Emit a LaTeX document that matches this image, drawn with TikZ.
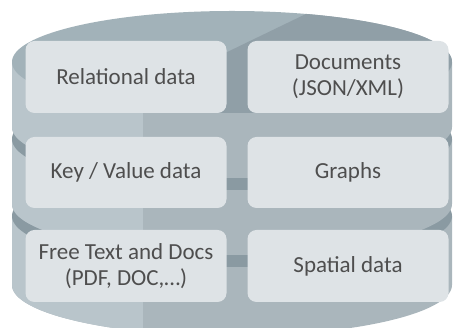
\documentclass[tikz,border=0pt]{standalone}
\usepackage{fontspec}
\setmainfont{Carlito}
\definecolor{toplight}{HTML}{A2B2B9}
\definecolor{topdark}{HTML}{909FA7}
\definecolor{bodylight}{HTML}{B9C5CB}
\definecolor{bodymain}{HTML}{AAB6BC}
\definecolor{crescent}{HTML}{8A9AA2}
\definecolor{boxfill}{HTML}{DEE3E6}
\definecolor{textc}{HTML}{4E4E4E}
\newcommand\diskbody[2]{%
  \fill[bodymain] (12,#1) -- (12,#2) arc[start angle=180,end angle=360,x radius=220pt,y radius=51pt] -- (452,#1) -- cycle;
  \begin{scope}
    \clip (12,#1) -- (12,#2) arc[start angle=180,end angle=360,x radius=220pt,y radius=51pt] -- (452,#1) -- cycle;
    \fill[bodylight] (0,0) rectangle (143,330);
  \end{scope}}
\tikzset{
  databox/.style={draw=none, fill=boxfill, rounded corners=9pt, minimum width=201pt,
    minimum height=72pt, align=center, text=textc, inner sep=0pt,
    font=\fontsize{23}{26}\selectfont}
}
\begin{document}
\begin{tikzpicture}[x=1pt,y=1pt]
\useasboundingbox (0,0) rectangle (453,328);
% disk 3
\diskbody{112}{43}
\fill[crescent] (232,112) ellipse[x radius=220pt,y radius=51pt];
% disk 2
\diskbody{189}{124}
\fill[crescent] (232,189) ellipse[x radius=220pt,y radius=51pt];
% disk 1
\diskbody{266}{201}
\fill[toplight] (232,266) ellipse[x radius=220pt,y radius=51pt];
\begin{scope}
  \clip (232,266) ellipse[x radius=220pt,y radius=51pt];
  \fill[topdark] (339,330) -- (70,200) -- (460,200) -- (460,330) -- cycle;
\end{scope}
% boxes
\node[databox] (rel) at (126,251) {Relational data};
\node[databox] (doc) at (348,251) {Documents\\(JSON/XML)};
\node[databox, minimum height=71pt] (kv) at (126,155.5) {Key / Value data};
\node[databox, minimum height=71pt] (graph) at (348,155.5) {Graphs};
\node[databox] (free) at (126,62) {Free Text and Docs\\(PDF, DOC,…)};
\node[databox] (spat) at (348,62) {Spatial data};
\end{tikzpicture}
\end{document}
